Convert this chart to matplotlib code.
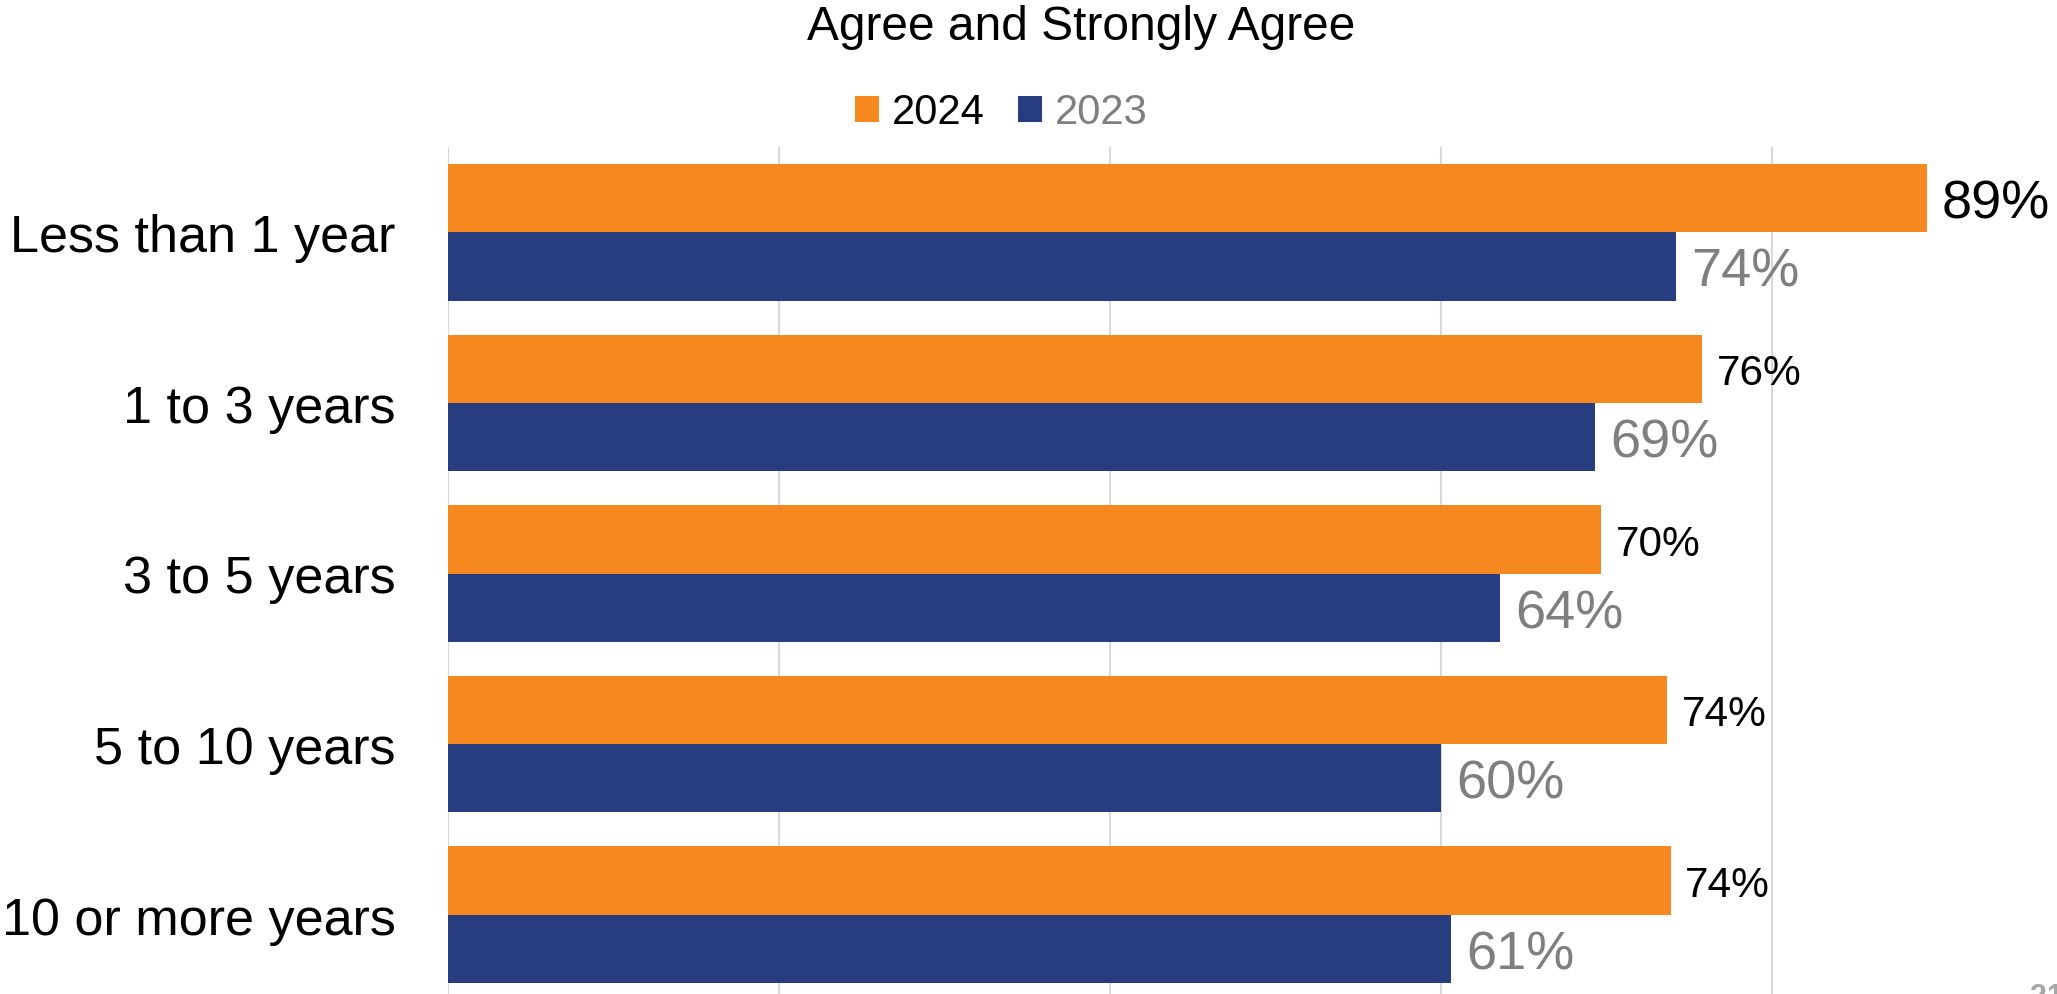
import matplotlib.pyplot as plt
import numpy as np

plt.rcParams["font.family"] = ["Liberation Sans", "DejaVu Sans"]

# data (bar lengths, labels show them rounded)
categories = ["Less than 1 year", "1 to 3 years", "3 to 5 years", "5 to 10 years", "10 or more years"]
series_names = ["2024", "2023"]
values_2024 = [89.4, 75.8, 69.7, 73.7, 73.9]
values_2023 = [74.2, 69.3, 63.6, 60.0, 60.6]

COLORS = {
    "2024": "#f5881f",
    "2023": "#283c80",
    "grid": "#d9d9d9",
    "grey_text": "#7f7f7f",
    "ink": "#000000",
}

W, H, DPI = 2057, 995, 100
fig = plt.figure(figsize=(W / DPI, H / DPI), dpi=DPI)
fig.patch.set_facecolor("white")

# plot area in pixels: left 447.7, top 148, bottom 1001 (runs slightly past the edge)
ax = fig.add_axes([447.7 / W, (H - 1001) / H, 1 - 447.7 / W, (1001 - 148) / H])
ax.set_facecolor("white")

y = np.arange(len(categories))
bar_h = 0.4
bars_24 = ax.barh(y - bar_h / 2, values_2024, height=bar_h, color=COLORS["2024"], label=series_names[0], zorder=2)
bars_23 = ax.barh(y + bar_h / 2, values_2023, height=bar_h, color=COLORS["2023"], label=series_names[1], zorder=2)

ax.set_xlim(0, (W - 447.7) / 16.55)
ax.set_ylim(len(categories) - 0.5, -0.5)

ax.set_xticks([0, 20, 40, 60, 80])
ax.xaxis.grid(True, color=COLORS["grid"], linewidth=1.5, zorder=0)
ax.tick_params(axis="x", length=0, labelbottom=False)
for side in ["top", "right", "bottom", "left"]:
    ax.spines[side].set_visible(False)

ax.set_yticks(y)
ax.set_yticklabels(categories, fontsize=37.5, color=COLORS["ink"])
ax.tick_params(axis="y", length=0, pad=37.5)

# value labels
sizes_2024 = [39, 30.5, 30.5, 30.5, 30.5]
for yy, v, fs in zip(y, values_2024, sizes_2024):
    ax.annotate(f"{v:.0f}%", (v, yy - bar_h / 2), xytext=(10.5, 0), textcoords="offset points",
                ha="left", va="center_baseline", fontsize=fs, color=COLORS["ink"])
for yy, v in zip(y, values_2023):
    ax.annotate(f"{v:.0f}%", (v, yy + bar_h / 2), xytext=(11, 0), textcoords="offset points",
                ha="left", va="center_baseline", fontsize=39, color=COLORS["grey_text"])

fig.text(1081 / W, 1 - 40 / H, "Agree and Strongly Agree", ha="center", va="baseline",
         fontsize=34.5, color=COLORS["ink"])

leg = fig.legend(handles=[bars_24, bars_23], loc="center", bbox_to_anchor=(1001 / W, 1 - 113.5 / H),
                 ncol=2, frameon=False, fontsize=30, handlelength=0.58, handleheight=0.58,
                 handletextpad=0.3, columnspacing=0.8, borderpad=0, borderaxespad=0)
leg.get_texts()[0].set_color(COLORS["ink"])
leg.get_texts()[1].set_color(COLORS["grey_text"])

# page number, cut off at the bottom edge as in the source slide
fig.text(2030 / W, 1 - 983 / H, "21", ha="left", va="top", fontsize=22, fontweight="bold", color="#a6a6a6")

fig.savefig("out.png", dpi=DPI, facecolor="white")
